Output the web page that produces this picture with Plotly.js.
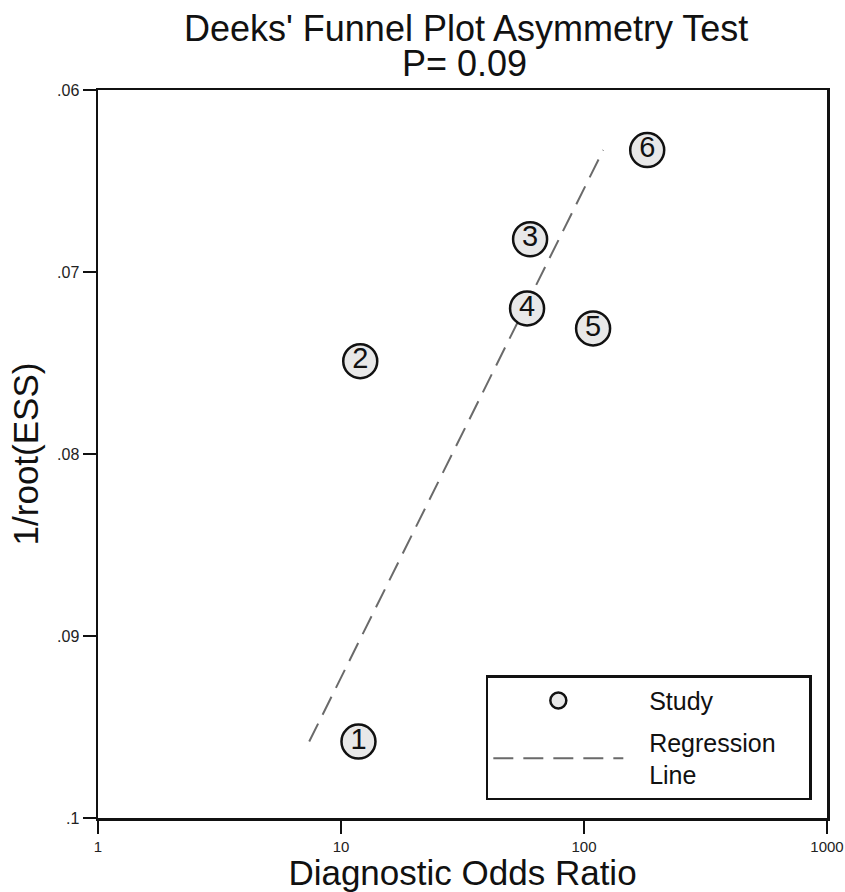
<!DOCTYPE html>
<html>
<head>
<meta charset="utf-8">
<script src="https://cdn.plot.ly/plotly-3.0.1.min.js"></script>
<style>
html,body{margin:0;padding:0;background:#fff;}
#chart{width:845px;height:892px;}
</style>
</head>
<body>
<div id="chart"></div>
<script>
// Study data
var studyLabels = ['1', '2', '3', '4', '5', '6'];
var diagnosticOddsRatio = [11.8, 12.0, 60, 58.3, 109, 182];
var invRootESS = [0.0958, 0.0749, 0.0682, 0.0720, 0.0731, 0.0633];

// Regression line end points
var regressionX = [7.4, 120];
var regressionY = [0.0958, 0.0633];

// Tick labels
var xTickVals = [1, 10, 100, 1000];
var xTickText = ['1', '10', '100', '1000'];
var yTickVals = [0.06, 0.07, 0.08, 0.09, 0.1];
var yTickText = ['.06', '.07', '.08', '.09', '.1'];

var titleText = "Deeks' Funnel Plot Asymmetry Test";
var pValueText = 'P= 0.09';

var FONT = 'Liberation Sans, Arial, sans-serif';
var SP = '\u00A0';
function pad(n) { return new Array(n + 1).join(SP); }

var traces = [
  {
    type: 'scatter',
    mode: 'lines',
    x: regressionX,
    y: regressionY,
    name: pad(3) + 'Regression' + pad(4) + '<br>' + pad(3) + 'Line',
    legendgroup: 'reg',
    line: {color: '#6a6a6a', width: 2, dash: '20px,10px'},
    hoverinfo: 'skip',
    legendrank: 2
  },
  {
    type: 'scatter',
    mode: 'markers+text',
    x: diagnosticOddsRatio,
    y: invRootESS,
    text: studyLabels,
    textposition: 'middle center',
    textfont: {family: FONT, size: 29, color: '#111'},
    name: pad(3) + 'Study',
    legendgroup: 'study',
    marker: {size: 34, color: '#e8e8e8', line: {color: '#111', width: 2.5}},
    legendrank: 1
  }
];

var layout = {
  width: 845,
  height: 892,
  paper_bgcolor: '#fff',
  plot_bgcolor: '#fff',
  font: {family: FONT, color: '#111'},
  margin: {l: 98, r: 18, t: 90, b: 74},
  title: {
    text: titleText,
    font: {family: FONT, size: 36, color: '#111'},
    xref: 'paper', x: 0.505, xanchor: 'center',
    yref: 'container', y: 0.9685, yanchor: 'middle'
  },
  annotations: [{
    text: pValueText,
    xref: 'paper', yref: 'paper',
    x: 0.503, y: 1.036, xanchor: 'center', yanchor: 'middle',
    showarrow: false,
    font: {family: FONT, size: 36, color: '#111'}
  }],
  xaxis: {
    type: 'log',
    range: [0, 3],
    tickvals: xTickVals,
    ticktext: xTickText,
    ticks: 'outside',
    ticklen: 13,
    tickwidth: 2,
    tickcolor: '#111',
    tickfont: {family: FONT, size: 15, color: '#222'},
    showline: true,
    linecolor: '#111',
    linewidth: 2.5,
    mirror: true,
    showgrid: false,
    zeroline: false,
    automargin: false,
    title: {text: 'Diagnostic Odds Ratio', font: {family: FONT, size: 35, color: '#111'}, standoff: 4}
  },
  yaxis: {
    range: [0.1, 0.06],
    tickvals: yTickVals,
    ticktext: yTickText,
    ticks: 'outside',
    ticklen: 13,
    tickwidth: 2,
    tickcolor: '#111',
    tickfont: {family: FONT, size: 16, color: '#222'},
    showline: true,
    linecolor: '#111',
    linewidth: 2.5,
    mirror: true,
    showgrid: false,
    zeroline: false,
    automargin: false,
    title: {text: '1/root(ESS)', font: {family: FONT, size: 35, color: '#111'}, standoff: 8}
  },
  showlegend: true,
  legend: {
    x: 0.532, y: 0.196, xanchor: 'left', yanchor: 'top',
    bordercolor: '#111', borderwidth: 2.5,
    bgcolor: '#fff',
    font: {family: FONT, size: 25, color: '#111'},
    itemwidth: 130,
    tracegroupgap: 6,
    itemsizing: 'trace'
  }
};

Plotly.newPlot('chart', traces, layout, {displayModeBar: false, staticPlot: true});
</script>
</body>
</html>
